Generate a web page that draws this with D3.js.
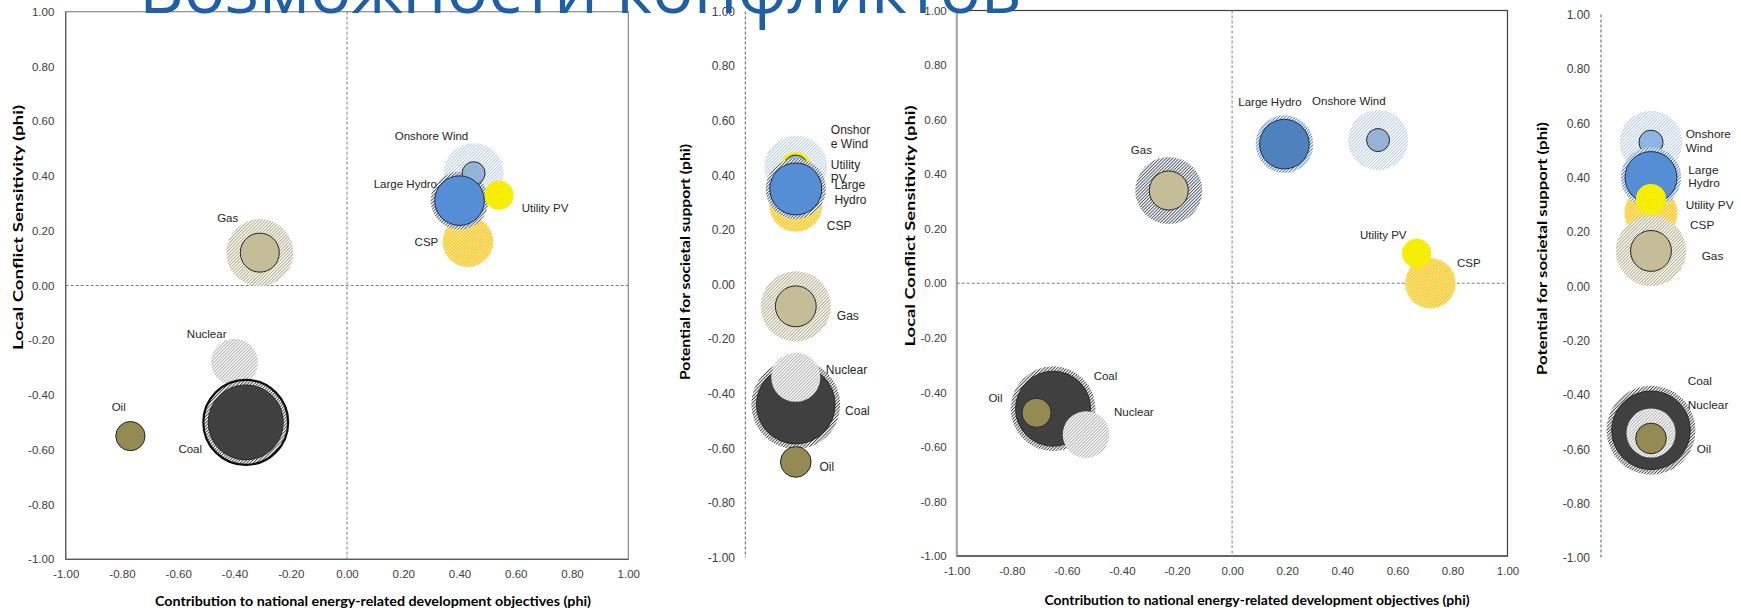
<!DOCTYPE html>
<html>
<head>
<meta charset="utf-8">
<script src="https://cdn.jsdelivr.net/npm/d3@7"></script>
<style>
  html, body { margin: 0; padding: 0; background: #ffffff; overflow: hidden; }
  svg { display: block; }
</style>
</head>
<body>
<svg id="chart" width="1741" height="611"></svg>
<script>
// ---------------------------------------------------------------------------
// Data
// ---------------------------------------------------------------------------
const technologies = ["Onshore Wind", "Large Hydro", "Utility PV", "CSP", "Gas", "Nuclear", "Coal", "Oil"];

// Assessment A
const devObjectivesA   = [0.45, 0.40, 0.54, 0.43, -0.31, -0.40, -0.36, -0.77];
const conflictA        = [0.41, 0.31, 0.33, 0.16, 0.12, -0.28, -0.50, -0.55];
const societalSupportA = [0.43, 0.35, 0.43, 0.29, -0.08, -0.34, -0.44, -0.65];

// Assessment B
const devObjectivesB   = [0.53, 0.19, 0.67, 0.72, -0.23, -0.53, -0.65, -0.71];
const conflictB        = [0.525, 0.51, 0.11, 0.00, 0.34, -0.555, -0.46, -0.475];
const societalSupportB = [0.53, 0.40, 0.32, 0.27, 0.13, -0.54, -0.53, -0.56];

// Bubble sizes: outer (hatched) series and inner (solid) series
const outerSize = [0.64, 0.59, 0.15, 0.455, 0.80, 0.39, 1.28, 0];
const innerSize = [0.094, 0.437, 0, 0, 0.27, 0, 1.00, 0.152];

const axisTicks = [-1, -0.8, -0.6, -0.4, -0.2, 0, 0.2, 0.4, 0.6, 0.8, 1];

const titleText = "Возможности конфликтов";
const xTitleText = "Contribution to national energy-related development objectives (phi)";
const conflictTitleText = "Local Conflict Sensitivity (phi)";
const supportTitleText = "Potential for societal support (phi)";

// ---------------------------------------------------------------------------
// Styling
// ---------------------------------------------------------------------------
const svg = d3.select("#chart");
const fmt = d3.formatLocale({ decimal: ".", thousands: ",", grouping: [3], currency: ["", ""], minus: "-" }).format(".2f");
const tickFont = "'Liberation Sans', Arial, sans-serif";
const titleFont = "Lato, 'Open Sans', sans-serif";

const hatches = [
  { id: "hatchWind",      fg: "#a3bedd", bg: "#ffffff", w: 0.8 },
  { id: "hatchHydroDark", fg: "#2c3b57", bg: "#ffffff", w: 0.85 },
  { id: "hatchHydroBlue", fg: "#3f74b9", bg: "#ffffff", w: 0.9 },
  { id: "hatchPV",        fg: "#f0d400", bg: "#ffff00", w: 0.9 },
  { id: "hatchCSP",       fg: "#ffbf00", bg: "#ffeaa6", w: 1.0 },
  { id: "hatchGas",       fg: "#aaa17a", bg: "#ffffff", w: 0.9 },
  { id: "hatchGasDark",   fg: "#2f3a52", bg: "#ffffff", w: 0.85 },
  { id: "hatchNuclear",   fg: "#a6a6a6", bg: "#ffffff", w: 0.9 },
  { id: "hatchCoal",      fg: "#262626", bg: "#ffffff", w: 0.85 }
];

const defs = svg.append("defs");
const tile = 2.3;
hatches.forEach(h => {
  const p = defs.append("pattern")
    .attr("id", h.id)
    .attr("patternUnits", "userSpaceOnUse")
    .attr("width", tile).attr("height", tile)
    .attr("patternTransform", "rotate(45)");
  p.append("rect").attr("width", tile).attr("height", tile).attr("fill", h.bg);
  p.append("line").attr("x1", 0.5).attr("y1", 0).attr("x2", 0.5).attr("y2", tile)
    .attr("stroke", h.fg).attr("stroke-width", h.w);
});

const outerFillBase = {
  "Onshore Wind": "hatchWind", "Large Hydro": "hatchHydroDark", "Utility PV": "hatchPV",
  "CSP": "hatchCSP", "Gas": "hatchGas", "Nuclear": "hatchNuclear", "Coal": "hatchCoal"
};
const innerFillBase = {
  "Onshore Wind": "#95b3d7", "Large Hydro": "#558ed5", "Gas": "#c4bd97", "Coal": "#404040", "Oil": "#948a54"
};

// ---------------------------------------------------------------------------
// Panels
// ---------------------------------------------------------------------------
const panels = [
  {
    key: "A1", kind: "scatter", xs: devObjectivesA, ys: conflictA,
    left: 65.7, right: 628.3, top: 11.7, bottom: 559.3, rMax: 37.5,
    frame: { box: "#8a8a8a", axis: "#595959", axisW: 1.2 },
    yTickPad: 11.4, xTickPad: 10.6, tickSize: 11.5,
    xTitle: { x: 373, y: 601.5, len: 436 }, yTitle: { x: 18, y: 227.5, len: 245, size: 13.5 },
    outerOverride: {}, innerOverride: {}, coalStroke: true,
    order: [["Onshore Wind", "o"], ["CSP", "o"], ["Large Hydro", "o"], ["Utility PV", "o"], ["Onshore Wind", "i"],
            ["Large Hydro", "i"], ["Gas", "o"], ["Gas", "i"], ["Nuclear", "o"], ["Coal", "o"], ["Coal", "i"], ["Oil", "i"]],
    labelSize: 11.5,
    labels: {
      "Onshore Wind": { dx: -42.1, dy: -37.5, anchor: "middle" },
      "Large Hydro":  { dx: -22.5, dy: -16.6, anchor: "end" },
      "Utility PV":   { dx: 22.8,  dy: 13.2,  anchor: "start" },
      "CSP":          { dx: -29.7, dy: 0,     anchor: "end" },
      "Gas":          { dx: -32.1, dy: -34.3, anchor: "middle" },
      "Nuclear":      { dx: -27.8, dy: -28.2, anchor: "middle" },
      "Coal":         { dx: -55.5, dy: 26.9,  anchor: "middle" },
      "Oil":          { dx: -11.7, dy: -28.8, anchor: "middle" }
    }
  },
  {
    key: "A2", kind: "strip", ys: societalSupportA,
    axisX: 745.3, bandWidth: 101, top: 11.5, bottom: 557.5, rMax: 39.3,
    yTickPad: 10.3, tickSize: 12,
    yTitle: { x: 685, y: 262, len: 236, size: 13 },
    outerOverride: {}, innerOverride: {},
    order: [["Onshore Wind", "o"], ["CSP", "o"], ["Utility PV", "o"], ["Onshore Wind", "i"], ["Large Hydro", "o"],
            ["Large Hydro", "i"], ["Gas", "o"], ["Gas", "i"], ["Coal", "o"], ["Coal", "i"], ["Nuclear", "o"], ["Oil", "i"]],
    labelSize: 12,
    labels: {
      "Onshore Wind": { dx: 35,   dy: -37.3, anchor: "start", lines: ["Onshor", "e Wind"], lh: 14.4 },
      "Utility PV":   { dx: 35,   dy: -2.3,  anchor: "start", lines: ["Utility", "PV"], lh: 13.7 },
      "Large Hydro":  { dx: 38.6, dy: -3.85, anchor: "start", lines: ["Large", "Hydro"], lh: 14.4 },
      "CSP":          { dx: 31,   dy: 20.7,  anchor: "start" },
      "Gas":          { dx: 41,   dy: 9.4,   anchor: "start" },
      "Nuclear":      { dx: 30,   dy: -7.1,  anchor: "start" },
      "Coal":         { dx: 49.3, dy: 5.8,   anchor: "start" },
      "Oil":          { dx: 23.6, dy: 4.5,   anchor: "start" }
    }
  },
  {
    key: "B1", kind: "scatter", xs: devObjectivesB, ys: conflictB,
    left: 956.7, right: 1507.5, top: 10.5, bottom: 556, rMax: 37.5,
    frame: { box: "#404040", axis: "#a6a6a6", axisW: 2, bottomAxis: "#404040" },
    yTickPad: 10, xTickPad: 10.6, tickSize: 11.5,
    xTitle: { x: 1257, y: 600, len: 425 }, yTitle: { x: 910, y: 226, len: 241, size: 13.5 },
    outerOverride: { "Large Hydro": "hatchHydroBlue", "Gas": "hatchGasDark" },
    innerOverride: { "Large Hydro": "#4f81bd" },
    order: [["Gas", "o"], ["Gas", "i"], ["Large Hydro", "o"], ["Large Hydro", "i"], ["Onshore Wind", "o"], ["Onshore Wind", "i"],
            ["CSP", "o"], ["Utility PV", "o"], ["Coal", "o"], ["Coal", "i"], ["Oil", "i"], ["Nuclear", "o"]],
    labelSize: 11.5,
    labels: {
      "Onshore Wind": { dx: -29.2, dy: -39.4, anchor: "middle" },
      "Large Hydro":  { dx: -14.5, dy: -42.5, anchor: "middle" },
      "Utility PV":   { dx: -33.4, dy: -18,   anchor: "middle" },
      "CSP":          { dx: 38.4,  dy: -20,   anchor: "middle" },
      "Gas":          { dx: -27.4, dy: -40.5, anchor: "middle" },
      "Nuclear":      { dx: 47.7,  dy: -22.3, anchor: "middle" },
      "Coal":         { dx: 52.4,  dy: -33,   anchor: "middle" },
      "Oil":          { dx: -41.1, dy: -15.1, anchor: "middle" }
    }
  },
  {
    key: "B2", kind: "strip", ys: societalSupportB,
    axisX: 1601, bandWidth: 100, top: 14.5, bottom: 558, rMax: 39.3,
    yTickPad: 11, tickSize: 12,
    yTitle: { x: 1542, y: 248.5, len: 253, size: 13.5 },
    outerOverride: { "Large Hydro": "hatchHydroBlue" }, innerOverride: { "Onshore Wind": "#8db4e2" },
    order: [["Onshore Wind", "o"], ["Onshore Wind", "i"], ["CSP", "o"], ["Gas", "o"], ["Gas", "i"], ["Large Hydro", "o"],
            ["Large Hydro", "i"], ["Utility PV", "o"], ["Coal", "o"], ["Coal", "i"], ["Nuclear", "o"], ["Oil", "i"]],
    labelSize: 11.8,
    labels: {
      "Onshore Wind": { dx: 34.7, dy: -7.9,  anchor: "start", lines: ["Onshore", "Wind"], lh: 14 },
      "Large Hydro":  { dx: 37.3, dy: -7.95, anchor: "start", lines: ["Large", "Hydro"], lh: 13.2 },
      "Utility PV":   { dx: 34.7, dy: 5.3,   anchor: "start" },
      "CSP":          { dx: 39,   dy: 11.5,  anchor: "start" },
      "Gas":          { dx: 50.7, dy: 4.5,   anchor: "start" },
      "Coal":         { dx: 36.7, dy: -49.9, anchor: "start" },
      "Nuclear":      { dx: 36.7, dy: -28.1, anchor: "start" },
      "Oil":          { dx: 45.7, dy: 10,    anchor: "start" }
    }
  }
];

function styleTicks(sel, size) {
  sel.select(".domain").remove();
  sel.selectAll(".tick line").remove();
  sel.selectAll(".tick text")
    .attr("font-family", tickFont)
    .attr("font-size", size)
    .attr("fill", "#404040");
}

function boldTitle(g, cfg, text, rotate, size) {
  g.append("text")
    .attr("transform", rotate ? `translate(${cfg.x},${cfg.y}) rotate(-90)` : `translate(${cfg.x},${cfg.y})`)
    .attr("text-anchor", "middle")
    .attr("dy", "0.35em")
    .attr("font-family", titleFont)
    .attr("font-weight", 700)
    .attr("font-size", size)
    .attr("fill", "#000000")
    .attr("textLength", cfg.len)
    .attr("lengthAdjust", "spacingAndGlyphs")
    .text(text);
}

panels.forEach(p => {
  const g = svg.append("g").attr("class", "panel-" + p.key);
  const y = d3.scaleLinear().domain([-1, 1]).range([p.bottom, p.top]);
  const r = d3.scaleSqrt().domain([0, 1]).range([0, p.rMax]);
  let cx;

  if (p.kind === "scatter") {
    const x = d3.scaleLinear().domain([-1, 1]).range([p.left, p.right]);
    cx = i => x(p.xs[i]);

    // plot frame
    g.append("rect")
      .attr("x", p.left).attr("y", p.top)
      .attr("width", p.right - p.left).attr("height", p.bottom - p.top)
      .attr("fill", "none").attr("stroke", p.frame.box).attr("stroke-width", 1.2);
    g.append("line").attr("x1", p.left).attr("x2", p.left).attr("y1", p.top).attr("y2", p.bottom)
      .attr("stroke", p.frame.axis).attr("stroke-width", p.frame.axisW);
    g.append("line").attr("x1", p.left).attr("x2", p.right).attr("y1", p.bottom).attr("y2", p.bottom)
      .attr("stroke", p.frame.bottomAxis || p.frame.axis).attr("stroke-width", 1.2);

    // zero cross lines
    g.append("line").attr("x1", x(0)).attr("x2", x(0)).attr("y1", p.top).attr("y2", p.bottom)
      .attr("stroke", "#7f7f7f").attr("stroke-width", 1).attr("stroke-dasharray", "3,2");
    g.append("line").attr("x1", p.left).attr("x2", p.right).attr("y1", y(0)).attr("y2", y(0))
      .attr("stroke", "#7f7f7f").attr("stroke-width", 1).attr("stroke-dasharray", "3,2");

    // axes
    g.append("g").attr("transform", `translate(${p.left},0)`)
      .call(d3.axisLeft(y).tickValues(axisTicks).tickFormat(fmt).tickSize(0).tickPadding(p.yTickPad))
      .call(s => styleTicks(s, p.tickSize));
    g.append("g").attr("transform", `translate(0,${p.bottom})`)
      .call(d3.axisBottom(x).tickValues(axisTicks).tickFormat(fmt).tickSize(0).tickPadding(p.xTickPad))
      .call(s => styleTicks(s, p.tickSize));

    boldTitle(g, p.xTitle, xTitleText, false, 13);
    boldTitle(g, p.yTitle, conflictTitleText, true, p.yTitle.size);
  } else {
    const band = d3.scaleBand().domain(["support"]).range([p.axisX, p.axisX + p.bandWidth]);
    cx = () => band("support") + band.bandwidth() / 2;

    g.append("line").attr("x1", p.axisX).attr("x2", p.axisX).attr("y1", p.top).attr("y2", p.bottom)
      .attr("stroke", "#595959").attr("stroke-width", 1).attr("stroke-dasharray", "3,2");
    g.append("g").attr("transform", `translate(${p.axisX},0)`)
      .call(d3.axisLeft(y).tickValues(axisTicks).tickFormat(fmt).tickSize(0).tickPadding(p.yTickPad))
      .call(s => styleTicks(s, p.tickSize));

    boldTitle(g, p.yTitle, supportTitleText, true, p.yTitle.size);
  }
  const cy = i => y(p.ys[i]);

  // bubbles: hatched outer series and solid inner series
  const layers = p.order.map(([name, layer]) => {
    const i = technologies.indexOf(name);
    const size = layer === "o" ? outerSize[i] : innerSize[i];
    return { name, layer, i, size };
  }).filter(d => d.size > 0);

  g.append("g").selectAll("circle").data(layers).join("circle")
    .attr("cx", d => cx(d.i))
    .attr("cy", d => cy(d.i))
    .attr("r", d => r(d.size))
    .attr("fill", d => d.layer === "o"
      ? `url(#${p.outerOverride[d.name] || outerFillBase[d.name]})`
      : (p.innerOverride[d.name] || innerFillBase[d.name]))
    .attr("stroke", d => {
      if (d.layer === "i") return d.name === "Large Hydro" ? "#1f2d48" : "#262626";
      if (d.name === "Coal" && p.coalStroke) return "#0d0d0d";
      return "none";
    })
    .attr("stroke-width", d => {
      if (d.layer === "i") return 1;
      if (d.name === "Coal" && p.coalStroke) return 2.2;
      return 0;
    });

  // data labels
  const lab = g.append("g");
  technologies.forEach((name, i) => {
    const L = p.labels[name];
    if (!L) return;
    const lines = L.lines || [name];
    const t = lab.append("text")
      .attr("font-family", tickFont)
      .attr("font-size", p.labelSize)
      .attr("fill", "#262626")
      .attr("text-anchor", L.anchor);
    lines.forEach((ln, k) => {
      t.append("tspan")
        .attr("x", cx(i) + L.dx)
        .attr("y", cy(i) + L.dy + k * (L.lh || 0))
        .attr("dy", "0.35em")
        .text(ln);
    });
  });
});

// slide heading running across the top edge
svg.append("text")
  .attr("x", 139)
  .attr("y", 12.5)
  .attr("font-family", "'Open Sans', 'Noto Sans', sans-serif")
  .attr("font-size", 70)
  .attr("fill", "#1f5fa6")
  .attr("textLength", 882)
  .attr("lengthAdjust", "spacingAndGlyphs")
  .text(titleText);
</script>
</body>
</html>
